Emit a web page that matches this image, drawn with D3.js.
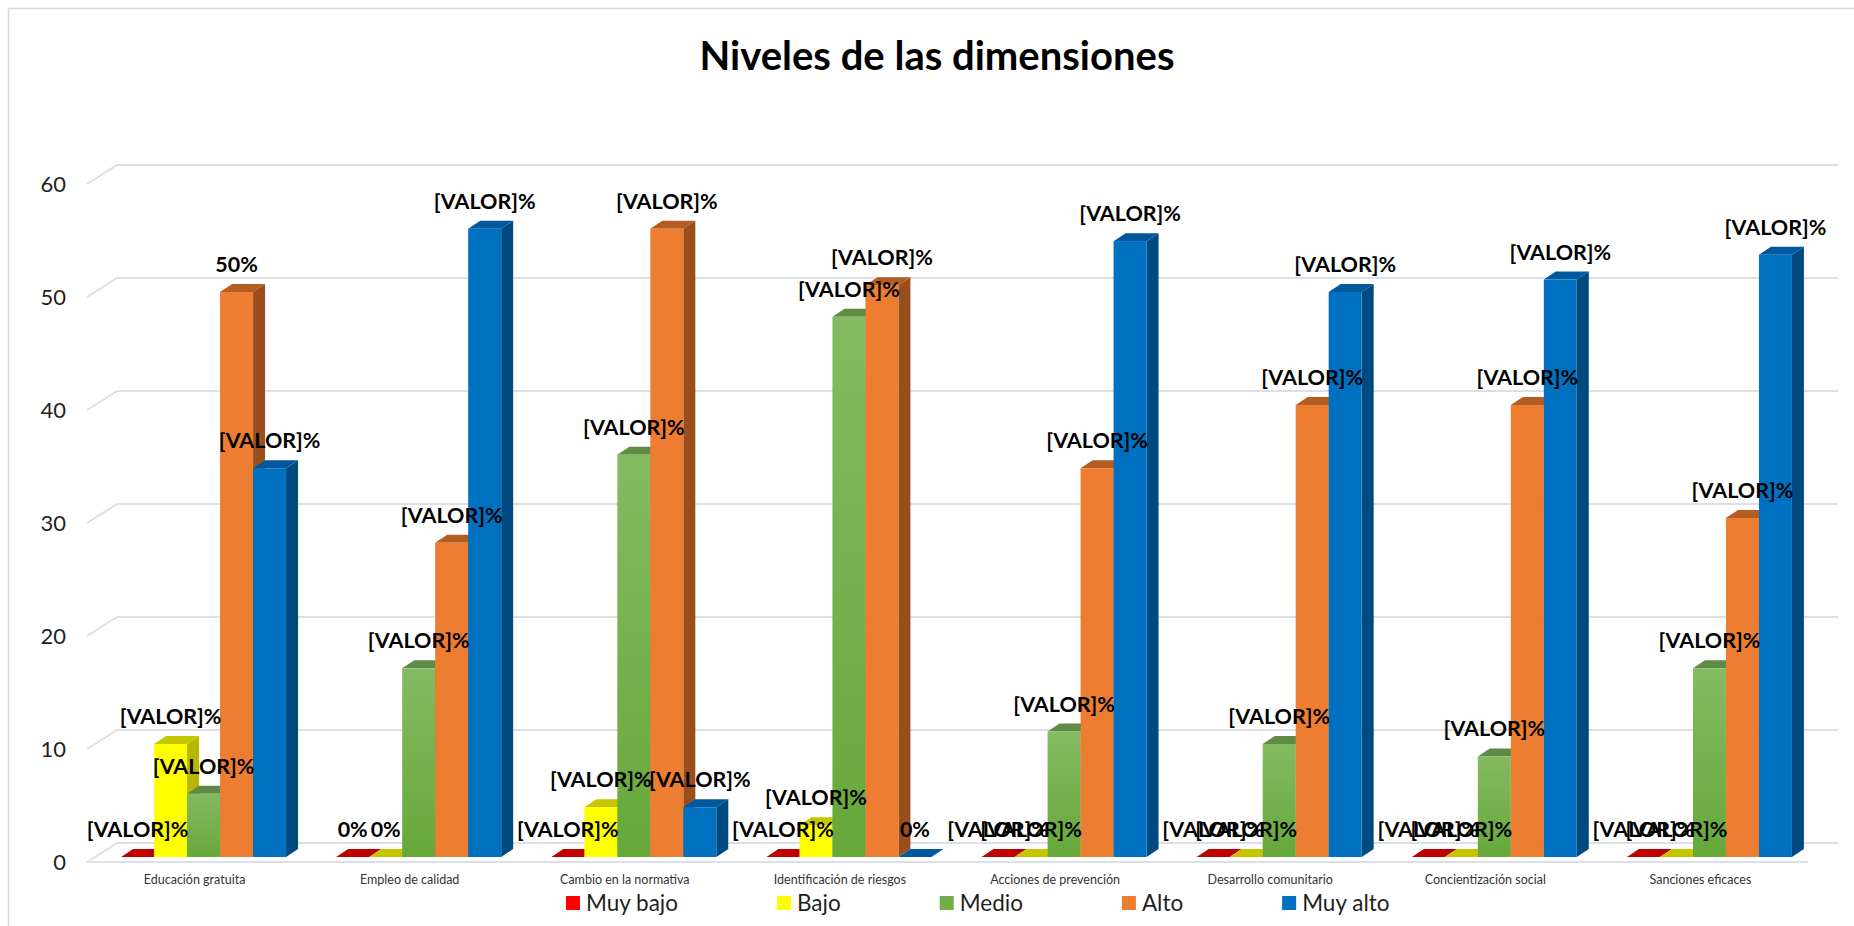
<!DOCTYPE html>
<html>
<head>
<meta charset="utf-8">
<title>Niveles de las dimensiones</title>
<style>
  body { margin: 0; background: #fff; }
  svg { display: block; font-family: Lato, 'Open Sans', sans-serif; }
  .ylab { font-size: 22px; fill: #1f1f1f; }
  .xlab { font-size: 12.5px; fill: #333; }
  .dlab { font-size: 21.5px; font-weight: 700; fill: #000; }
  .leg { font-size: 22.5px; fill: #1f1f1f; }
</style>
</head>
<body>
<svg width="1854" height="926"></svg>
<script src="https://d3js.org/d3.v7.min.js"></script>
<script>
// data (percent)
const categories = ["Educación gratuita", "Empleo de calidad", "Cambio en la normativa", "Identificación de riesgos",
  "Acciones de prevención", "Desarrollo comunitario", "Concientización social", "Sanciones eficaces"];
const seriesNames = ["Muy bajo", "Bajo", "Medio", "Alto", "Muy alto"];
const muyBajo = [0, 0, 0, 0, 0, 0, 0, 0];
const bajo    = [10, 0, 4.4, 2.8, 0, 0, 0, 0];
const medio   = [5.6, 16.7, 35.6, 47.8, 11.1, 10, 8.9, 16.7];
const alto    = [50, 27.8, 55.6, 50.6, 34.4, 40, 40, 30];
const muyAlto = [34.4, 55.6, 4.4, 0, 54.5, 50, 51.1, 53.3];
// labels as they show in the chart (broken excel field)
const labMuyBajo = ["[VALOR]%", "0%", "[VALOR]%", "[VALOR]%", "[VALOR]%", "[VALOR]%", "[VALOR]%", "[VALOR]%"];
const labBajo    = ["[VALOR]%", "0%", "[VALOR]%", "[VALOR]%", "[VALOR]%", "[VALOR]%", "[VALOR]%", "[VALOR]%"];
const labMedio   = ["[VALOR]%", "[VALOR]%", "[VALOR]%", "[VALOR]%", "[VALOR]%", "[VALOR]%", "[VALOR]%", "[VALOR]%"];
const labAlto    = ["50%", "[VALOR]%", "[VALOR]%", "[VALOR]%", "[VALOR]%", "[VALOR]%", "[VALOR]%", "[VALOR]%"];
const labMuyAlto = ["[VALOR]%", "[VALOR]%", "[VALOR]%", "0%", "[VALOR]%", "[VALOR]%", "[VALOR]%", "[VALOR]%"];
const yTicks = [0, 10, 20, 30, 40, 50, 60];

const values = [muyBajo, bajo, medio, alto, muyAlto];
const labels = [labMuyBajo, labBajo, labMedio, labAlto, labMuyAlto];

// face colours: front, top, side
const colors = {
  "Muy bajo": { front: "#FF0000", top: "#C00000", side: "#A00000" },
  "Bajo":     { front: "#FFFF00", top: "#C6C600", side: "#B8B800" },
  "Medio":    { front: "url(#gGreen)", top: "#5F8B47", side: "#4E7A37", swatch: "#70AD47" },
  "Alto":     { front: "#ED7D31", top: "#B45C22", side: "#9A4E1E" },
  "Muy alto": { front: "#0070C0", top: "#00589E", side: "#004A80" }
};

const svg = d3.select("svg");

const defs = svg.append("defs");
const grad = defs.append("linearGradient").attr("id", "gGreen")
  .attr("x1", 0).attr("y1", 0).attr("x2", 0).attr("y2", 1);
grad.append("stop").attr("offset", "0%").attr("stop-color", "#84BB62");
grad.append("stop").attr("offset", "100%").attr("stop-color", "#66A83A");

// chart border
svg.append("rect").attr("x", 8.5).attr("y", 8.5).attr("width", 1900).attr("height", 1000)
  .attr("fill", "none").attr("stroke", "#D9D9D9").attr("stroke-width", 1.5);

svg.append("text")
  .attr("x", 937).attr("y", 70)
  .attr("text-anchor", "middle")
  .style("font-size", "40px").style("font-weight", 700).style("fill", "#000")
  .text("Niveles de las dimensiones");

// 3d-ish geometry
const DX = 30, DY = -19;      // floor depth (front -> back wall)
const BX = 9, BY = -5;        // bar front plane offset
const BDX = 12, BDY = -8;     // bar depth

const x0 = d3.scaleBand().domain(categories).range([87, 1808]).paddingInner(0).paddingOuter(0);
const x1 = d3.scaleBand().domain(seriesNames).range([0, x0.bandwidth()]).paddingInner(0).paddingOuter(0.76);
const y = d3.scaleLinear().domain([0, 60]).range([862, 184]);

// back wall gridlines + left wall diagonals
const grid = svg.append("g").attr("stroke", "#DCDFE5").attr("stroke-width", 2).attr("fill", "none");
grid.selectAll("line.h").data(yTicks).join("line")
  .attr("x1", 87 + DX).attr("x2", 1808 + DX)
  .attr("y1", d => y(d) + DY).attr("y2", d => y(d) + DY);
grid.selectAll("line.d").data(yTicks).join("line")
  .attr("x1", 87).attr("x2", 87 + DX)
  .attr("y1", d => y(d)).attr("y2", d => y(d) + DY);
// floor front edge
grid.append("line").attr("x1", 87).attr("x2", 1808).attr("y1", y(0)).attr("y2", y(0));

svg.append("g").selectAll("text").data(yTicks).join("text")
  .attr("class", "ylab")
  .attr("x", 66).attr("y", d => y(d) + 8)
  .attr("text-anchor", "end")
  .text(d => d);

// flatten bars in draw order (group by group, left to right)
const bars = [];
categories.forEach((c, i) => {
  seriesNames.forEach((s, j) => {
    bars.push({ cat: c, s: s, v: values[j][i], lab: labels[j][i] });
  });
});

const w = x1.bandwidth();
const barG = svg.append("g");
bars.forEach(d => {
  const bx = x0(d.cat) + x1(d.s) + BX;
  const yb = y(0) + BY;
  const yt = y(d.v) + BY;
  const col = colors[d.s];
  const g = barG.append("g");
  if (d.v > 0) {
    g.append("polygon")
      .attr("points", [[bx + w, yt], [bx + w + BDX, yt + BDY], [bx + w + BDX, yb + BDY], [bx + w, yb]].join(" "))
      .attr("fill", col.side);
  }
  g.append("polygon")
    .attr("points", [[bx, yt], [bx + w, yt], [bx + w + BDX, yt + BDY], [bx + BDX, yt + BDY]].join(" "))
    .attr("fill", col.top);
  if (d.v > 0) {
    g.append("rect")
      .attr("x", bx).attr("y", yt).attr("width", w).attr("height", yb - yt)
      .attr("fill", col.front);
  }
});

// data labels
svg.append("g").selectAll("text").data(bars).join("text")
  .attr("class", "dlab")
  .attr("x", d => x0(d.cat) + x1(d.s) + BX + w / 2)
  .attr("y", d => y(d.v) + BY - 20)
  .attr("text-anchor", "middle")
  .text(d => d.lab);

// category labels
svg.append("g").selectAll("text").data(categories).join("text")
  .attr("class", "xlab")
  .attr("x", d => x0(d) + x0.bandwidth() / 2)
  .attr("y", 884)
  .attr("text-anchor", "middle")
  .text(d => d);

// legend
const leg = svg.append("g");
let lx = 566;
seriesNames.forEach(s => {
  leg.append("rect").attr("x", lx).attr("y", 896).attr("width", 14).attr("height", 14)
    .attr("fill", colors[s].swatch || colors[s].front);
  const t = leg.append("text").attr("class", "leg").attr("x", lx + 20).attr("y", 911).text(s);
  lx += 20 + t.node().getComputedTextLength() + 99;
});
</script>
</body>
</html>
